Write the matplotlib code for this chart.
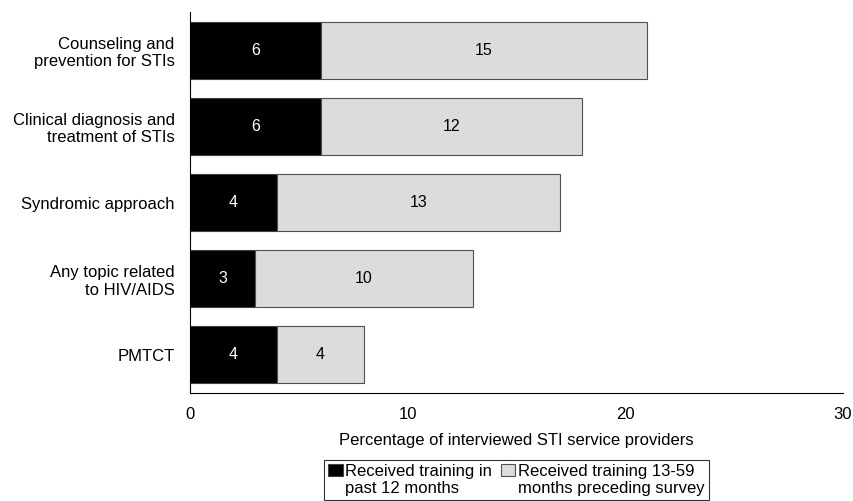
import matplotlib
matplotlib.use("Agg")
import matplotlib.pyplot as plt
import matplotlib.patches as mpatches
from matplotlib.container import BarContainer
from matplotlib.legend_handler import HandlerPatch
import numpy as np

plt.rcParams["font.family"] = ["Liberation Sans", "DejaVu Sans"]

categories = ["Counseling and\nprevention for STIs",
              "Clinical diagnosis and\ntreatment of STIs",
              "Syndromic approach",
              "Any topic related\nto HIV/AIDS",
              "PMTCT"]
past_12 = [6, 6, 4, 3, 4]
months_13_59 = [15, 12, 13, 10, 4]
series_names = ["Received training in\npast 12 months",
                "Received training 13-59\nmonths preceding survey"]

LEG_SPACING = 1.15


def top_line_square(legend, orig_handle, xdescent, ydescent, width, height,
                    fontsize):
    # legend text has two lines; put the swatch next to the first one
    return mpatches.Rectangle((-xdescent, -ydescent + fontsize*0.62),
                              width, height)


def from_first_bar(target, container):
    target.update_from(container.patches[0])


fig = plt.figure(figsize=(8.54, 5.01), dpi=100)
ax = fig.add_axes([0.2225, 0.2156, 0.7645, 0.7604])

y = np.arange(len(categories))
ax.barh(y, past_12, height=0.75, color="black", edgecolor="#404040",
        linewidth=0.8, label=series_names[0])
ax.barh(y, months_13_59, left=past_12, height=0.75, color="#dcdcdc",
        edgecolor="#505050", linewidth=0.8, label=series_names[1])
for yi, a, b in zip(y, past_12, months_13_59):
    ax.text(a / 2, yi, f"{a}", ha="center", va="center", color="white",
            fontsize=11.5)
    ax.text(a + b / 2, yi, f"{b}", ha="center", va="center", color="black",
            fontsize=11.5)

ax.set_xlim(0, 30)
ax.set_ylim(4.5, -0.5)
ax.set_xticks([0, 10, 20, 30])
ax.set_yticks(y)
ax.set_yticklabels(categories, fontsize=12, linespacing=1.2)
ax.tick_params(axis="both", length=0, labelsize=12)
ax.tick_params(axis="x", pad=10)
ax.tick_params(axis="y", pad=11)
ax.spines[["top", "right"]].set_visible(False)
ax.set_xlabel("Percentage of interviewed STI service providers", fontsize=12,
              labelpad=8)

handler = HandlerPatch(patch_func=top_line_square, update_func=from_first_bar)
leg = ax.legend(loc="upper center", bbox_to_anchor=(0.5, -0.176), ncol=2,
                fontsize=12, frameon=True, fancybox=False, edgecolor="black",
                handlelength=0.85, handleheight=0.7, handletextpad=0.15,
                columnspacing=0.55, borderpad=0.25, labelspacing=0.1,
                borderaxespad=0, handler_map={BarContainer: handler})
leg.get_frame().set_linewidth(0.8)
for t in leg.get_texts():
    t.set_multialignment("left")
    t.set_linespacing(LEG_SPACING)

fig.savefig("out.png", dpi=100)
